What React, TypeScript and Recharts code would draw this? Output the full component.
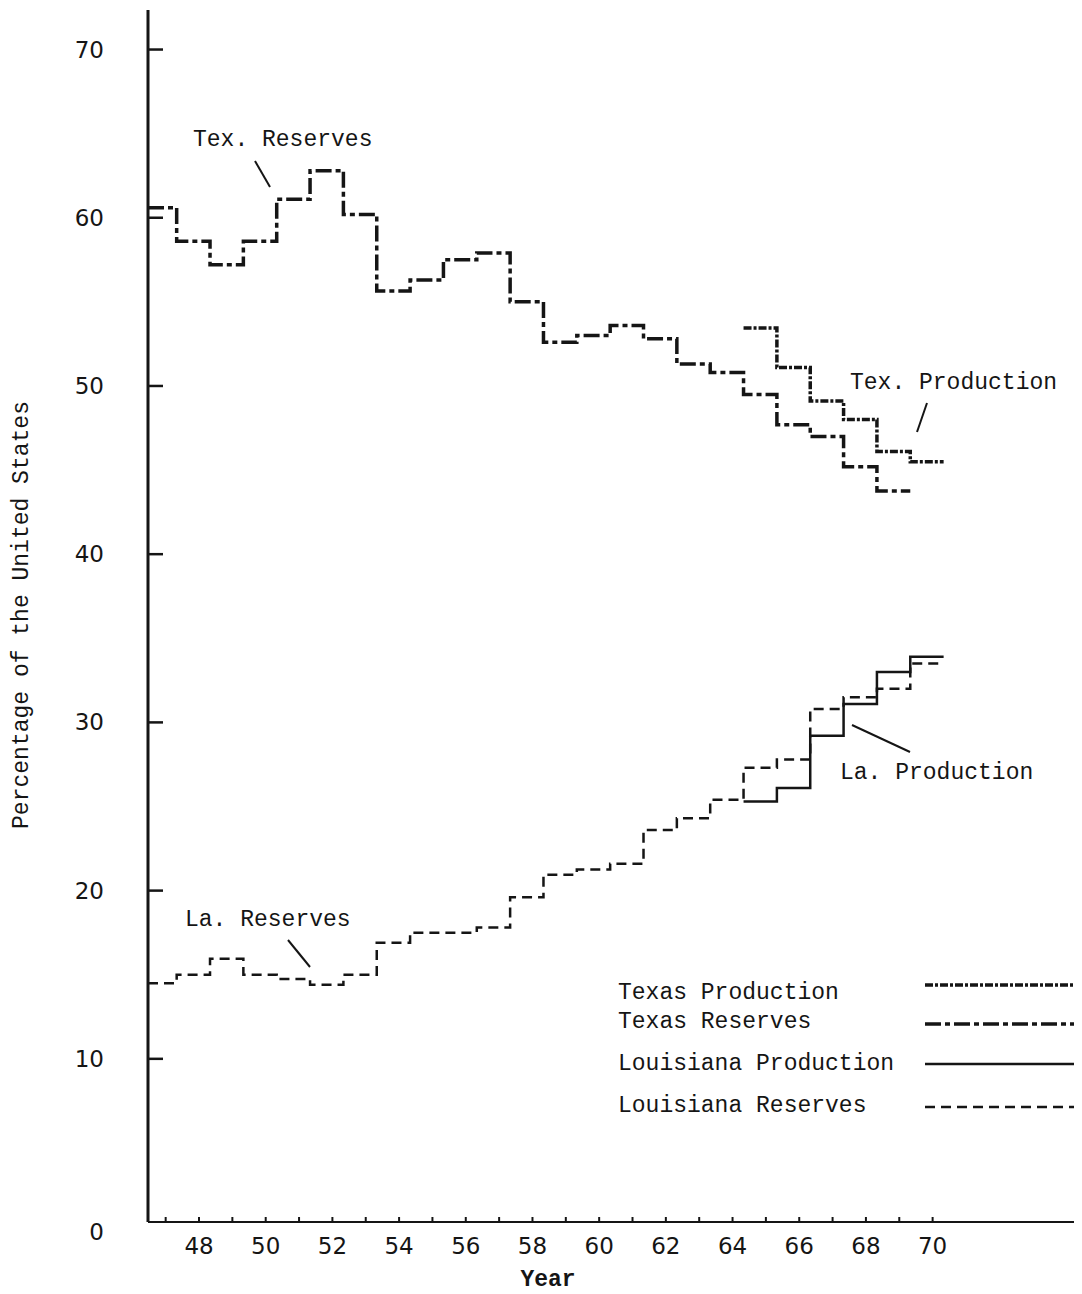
import React from "react";
import { LineChart, Line, XAxis, YAxis, Legend } from "recharts";

// ─── Data (percent of U.S. total) ─────────────────────────────────
const texResYears = [47, 48, 49, 50, 51, 52, 53, 54, 55, 56, 57, 58, 59, 60, 61, 62, 63, 64, 65, 66, 67, 68, 69];
const texResValues = [60.6, 58.6, 57.2, 58.6, 61.1, 62.8, 60.2, 55.65, 56.3, 57.5, 57.9, 55.0, 52.6, 53.0, 53.6, 52.8, 51.3, 50.8, 49.5, 47.7, 47.0, 45.2, 43.75];

const texProdYears = [65, 66, 67, 68, 69, 70];
const texProdValues = [53.45, 51.1, 49.1, 48.0, 46.1, 45.5];

const laResYears = [47, 48, 49, 50, 51, 52, 53, 54, 55, 56, 57, 58, 59, 60, 61, 62, 63, 64, 65, 66, 67, 68, 69, 70];
const laResValues = [14.5, 15.0, 15.95, 15.0, 14.75, 14.4, 15.0, 16.9, 17.5, 17.5, 17.8, 19.6, 20.95, 21.25, 21.6, 23.6, 24.3, 25.4, 27.3, 27.8, 30.8, 31.5, 32.0, 33.5];

const laProdYears = [65, 66, 67, 68, 69, 70];
const laProdValues = [25.3, 26.1, 29.2, 31.1, 33.0, 33.9];

const yearTicks = [47, 48, 49, 50, 51, 52, 53, 54, 55, 56, 57, 58, 59, 60, 61, 62, 63, 64, 65, 66, 67, 68, 69, 70];
const yearLabels = [48, 50, 52, 54, 56, 58, 60, 62, 64, 66, 68, 70];
const pctTicks = [0, 10, 20, 30, 40, 50, 60, 70];

// ─── Layout / style ───────────────────────────────────────────────
const X_MIN = 46.47;
const X_MAX = 74.42;
const STEP_LEAD = 0.67; // each year's step starts 2/3 of a year before its tick
const INK = "#151515";
const TYPE = "'Liberation Mono', 'DejaVu Sans Mono', monospace";
const LETTER = "'DejaVu Sans', sans-serif";

const STYLES = {
  texProd: { strokeWidth: 3.5, dash: "8 2 3 2" },
  texRes: { strokeWidth: 3.5, dash: "16 4 5 4" },
  laProd: { strokeWidth: 2.5, dash: undefined as string | undefined },
  laRes: { strokeWidth: 2.5, dash: "10 6" },
};

const toSteps = (years: number[], values: number[]) => {
  const pts = years.map((yr, i) => ({ year: Math.max(yr - STEP_LEAD, X_MIN), pct: values[i] }));
  pts.push({ year: years[years.length - 1] + 1 - STEP_LEAD, pct: values[values.length - 1] });
  return pts;
};

const YTick = ({ x, y, payload }: any) => (
  <g>
    {payload.value > 0 && <line x1={x} x2={x + 15} y1={y} y2={y} stroke={INK} strokeWidth={2.5} />}
    <text
      x={x - 44}
      y={payload.value === 0 ? y + 5 : y}
      textAnchor="end"
      dominantBaseline="central"
      fontFamily={LETTER}
      fontSize={23}
      fill={INK}
    >
      {payload.value}
    </text>
  </g>
);

const XTick = ({ x, y, payload }: any) => (
  <g>
    <line x1={x} x2={x} y1={y} y2={y - 5} stroke={INK} strokeWidth={2} />
    {yearLabels.includes(payload.value) && (
      <text x={x} y={y + 24} textAnchor="middle" dominantBaseline="central" fontFamily={LETTER} fontSize={23} fill={INK}>
        {payload.value}
      </text>
    )}
  </g>
);

const legendRows = [
  { label: "Texas Production", style: STYLES.texProd, ty: 17, ly: 9 },
  { label: "Texas Reserves", style: STYLES.texRes, ty: 46, ly: 48 },
  { label: "Louisiana Production", style: STYLES.laProd, ty: 88, ly: 88 },
  { label: "Louisiana Reserves", style: STYLES.laRes, ty: 130, ly: 131 },
];

const LegendBox = () => (
  <svg width={470} height={150}>
    {legendRows.map((r) => (
      <g key={r.label}>
        <text x={0} y={r.ty} dominantBaseline="central" fontFamily={TYPE} fontSize={23} fill={INK}>
          {r.label}
        </text>
        <line
          x1={307}
          x2={457}
          y1={r.ly}
          y2={r.ly}
          stroke={INK}
          strokeWidth={r.style.strokeWidth}
          strokeDasharray={r.style.dash}
        />
      </g>
    ))}
  </svg>
);

const note = { fontFamily: TYPE, fontSize: 23, fill: INK };

export default function App() {
  return (
    <LineChart width={1074} height={1286} margin={{ top: 2, right: 2, left: 0, bottom: 0 }}>
      <XAxis
        dataKey="year"
        type="number"
        domain={[X_MIN, X_MAX]}
        ticks={yearTicks}
        interval={0}
        allowDataOverflow
        height={72}
        tickSize={0}
        tickMargin={0}
        tickLine={false}
        axisLine={{ stroke: INK, strokeWidth: 2 }}
        tick={<XTick />}
      />
      <YAxis
        type="number"
        domain={[0.3, 72.35]}
        ticks={pctTicks}
        interval={0}
        allowDataOverflow
        width={140}
        tickSize={0}
        tickMargin={0}
        tickLine={false}
        axisLine={{ stroke: INK, strokeWidth: 3 }}
        tick={<YTick />}
      />

      <Line data={toSteps(texResYears, texResValues)} dataKey="pct" type="stepAfter" stroke={INK}
        strokeWidth={STYLES.texRes.strokeWidth} strokeDasharray={STYLES.texRes.dash} dot={false} isAnimationActive={false} />
      <Line data={toSteps(texProdYears, texProdValues)} dataKey="pct" type="stepAfter" stroke={INK}
        strokeWidth={STYLES.texProd.strokeWidth} strokeDasharray={STYLES.texProd.dash} dot={false} isAnimationActive={false} />
      <Line data={toSteps(laResYears, laResValues)} dataKey="pct" type="stepAfter" stroke={INK}
        strokeWidth={STYLES.laRes.strokeWidth} strokeDasharray={STYLES.laRes.dash} dot={false} isAnimationActive={false} />
      <Line data={toSteps(laProdYears, laProdValues)} dataKey="pct" type="stepAfter" stroke={INK}
        strokeWidth={STYLES.laProd.strokeWidth} dot={false} isAnimationActive={false} />

      <Legend
        layout="horizontal"
        verticalAlign="middle"
        align="center"
        wrapperStyle={{ left: 610, top: 968, width: 470, height: 150 }}
        content={() => <LegendBox />}
      />

      {/* annotations */}
      <text x={185} y={132} dominantBaseline="central" {...note}>Tex. Reserves</text>
      <line x1={247} y1={153} x2={262} y2={179} stroke={INK} strokeWidth={2} />
      <text x={842} y={375} dominantBaseline="central" {...note}>Tex. Production</text>
      <line x1={919} y1={395} x2={909} y2={424} stroke={INK} strokeWidth={2} />
      <text x={832} y={765} dominantBaseline="central" {...note}>La. Production</text>
      <line x1={844} y1={717} x2={902} y2={744} stroke={INK} strokeWidth={2} />
      <text x={177} y={912} dominantBaseline="central" {...note}>La. Reserves</text>
      <line x1={280} y1={932} x2={302} y2={959} stroke={INK} strokeWidth={2} />

      {/* axis titles */}
      <text x={14} y={607} transform="rotate(-90 14 607)" textAnchor="middle" dominantBaseline="central" {...note}>
        Percentage of the United States
      </text>
      <text x={540} y={1272} textAnchor="middle" dominantBaseline="central" {...note} fontWeight="bold">
        Year
      </text>
    </LineChart>
  );
}
